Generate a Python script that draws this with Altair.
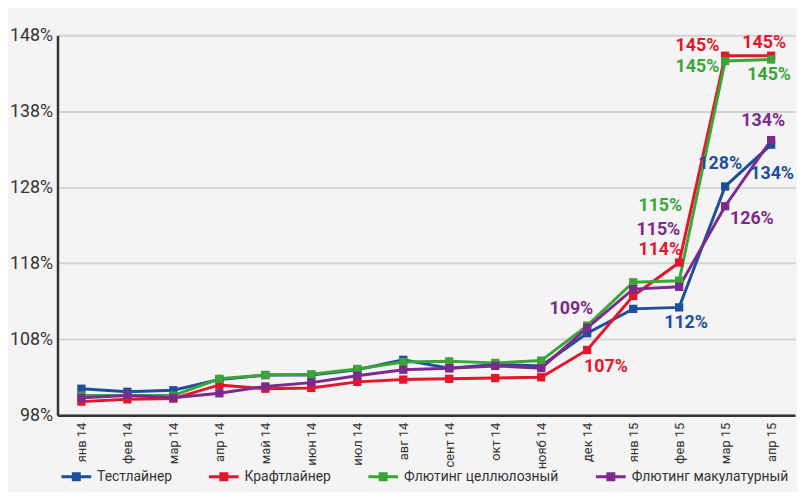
import pandas as pd
import altair as alt

# ── data ─────────────────────────────────────────────────────────────────────

MONTHS = ["янв 14", "фев 14", "мар 14", "апр 14", "май 14", "июн 14",
          "июл 14", "авг 14", "сент 14", "окт 14", "нояб 14", "дек 14",
          "янв 15", "фев 15", "мар 15", "апр 15"]

SERIES = ["Тестлайнер", "Крафтлайнер", "Флютинг целлюлозный", "Флютинг макулатурный"]

TESTLINER = [101.5, 101.1, 101.3, 102.7, 103.3, 103.3, 104.0, 105.3,
             104.2, 104.7, 104.5, 108.8, 112.0, 112.2, 128.1, 133.6]
KRAFTLINER = [99.8, 100.1, 100.2, 102.0, 101.5, 101.6, 102.4, 102.7,
              102.8, 102.9, 103.0, 106.6, 113.7, 118.1, 145.3, 145.3]
FLUTING_CELL = [100.6, 100.6, 100.6, 102.8, 103.3, 103.4, 104.1, 105.0,
                105.1, 104.9, 105.2, 109.8, 115.5, 115.7, 144.6, 144.8]
FLUTING_WASTE = [100.3, 100.6, 100.3, 100.9, 101.8, 102.3, 103.2, 104.0,
                 104.2, 104.5, 104.2, 109.5, 114.6, 114.9, 125.5, 134.2]

Y_TICKS = [98, 108, 118, 128, 138, 148]

# annotations: (series, month, text)
LABELS = [
    ("Крафтлайнер", "мар 15", "145%"),
    ("Крафтлайнер", "апр 15", "145%"),
    ("Флютинг целлюлозный", "мар 15", "145%"),
    ("Флютинг целлюлозный", "апр 15", "145%"),
    ("Флютинг макулатурный", "апр 15", "134%"),
    ("Тестлайнер", "мар 15", "128%"),
    ("Тестлайнер", "апр 15", "134%"),
    ("Флютинг макулатурный", "мар 15", "126%"),
    ("Флютинг целлюлозный", "фев 15", "115%"),
    ("Флютинг макулатурный", "фев 15", "115%"),
    ("Крафтлайнер", "фев 15", "114%"),
    ("Тестлайнер", "фев 15", "112%"),
    ("Флютинг макулатурный", "дек 14", "109%"),
    ("Крафтлайнер", "дек 14", "107%"),
]

# ── style ────────────────────────────────────────────────────────────────────

COLORS = ["#1d4f9c", "#e5162c", "#3ba637", "#7e2a8c"]
BG = "#f4f4f4"
AXIS_COLOR = "#333333"
GRID_COLOR = "#d3d3d3"
FONT = "Roboto"

# (dx, dy) for each annotation, same order as LABELS
LABEL_OFFSETS = [(-28, -10), (-7, -13), (-28, 6), (-2, 16), (-8, -19),
                 (-5, -23), (1, 30), (27, 13), (-19, -75), (-21, -57),
                 (-19, -13), (7, 16), (-16, -19), (19, 17)]

# ── build table ──────────────────────────────────────────────────────────────

values = dict(zip(SERIES, [TESTLINER, KRAFTLINER, FLUTING_CELL, FLUTING_WASTE]))
series_color = dict(zip(SERIES, COLORS))
df = pd.DataFrame([
    {"month": m, "series": s, "value": v, "order": i, "line_color": series_color[s]}
    for i, s in enumerate(SERIES)
    for m, v in zip(MONTHS, values[s])
])

x_enc = alt.X(
    "month:N", sort=MONTHS, title=None,
    scale=alt.Scale(type="point", padding=0.52),
    axis=alt.Axis(labelAngle=-90, labelFontSize=13, labelColor=AXIS_COLOR,
                  labelPadding=7, ticks=False, grid=False, domainColor=AXIS_COLOR,
                  domainWidth=2.5, labelFont=FONT),
)
y_enc = alt.Y(
    "value:Q", title=None,
    scale=alt.Scale(domain=[98, 148], nice=False, zero=False),
    axis=alt.Axis(values=Y_TICKS, labelExpr="datum.value + '%'", labelFontSize=18,
                  labelColor=AXIS_COLOR, labelPadding=5, ticks=False,
                  gridColor=GRID_COLOR, gridWidth=2, domainColor=AXIS_COLOR,
                  domainWidth=2.5, labelFont=FONT),
)

# lines take their colour straight from the table, so only the squares make a legend
lines = alt.Chart(df).mark_line(strokeWidth=3).encode(
    x=x_enc, y=y_enc,
    color=alt.Color("line_color:N", scale=None),
    detail="series:N",
    order=alt.Order("order:Q"),
)

points = alt.Chart(df).mark_square(size=70, filled=True, opacity=1).encode(
    x=alt.X("month:N", sort=MONTHS),
    y="value:Q",
    color=alt.Color(
        "series:N", scale=alt.Scale(domain=SERIES, range=COLORS),
        legend=alt.Legend(
            title=None, orient="none", direction="horizontal",
            legendX=4, legendY=431,
            symbolType="M-1,-0.1H1V0.1H-1Z M-0.3,-0.3H0.3V0.3H-0.3Z",
            symbolSize=900, symbolStrokeWidth=0, symbolOpacity=1,
            labelFontSize=14, labelColor=AXIS_COLOR, labelFont=FONT,
            labelOffset=6, columnPadding=37,
        ),
    ),
)

label_layers = []
for (series, month, text), (dx, dy) in zip(LABELS, LABEL_OFFSETS):
    row = pd.DataFrame([{
        "month": month,
        "value": values[series][MONTHS.index(month)],
        "text": text,
    }])
    label_layers.append(
        alt.Chart(row).mark_text(
            dx=dx, dy=dy, fontSize=18, fontWeight="bold", font=FONT,
            color=series_color[series], align="center", baseline="middle",
        ).encode(x=alt.X("month:N", sort=MONTHS), y="value:Q", text="text:N")
    )

chart = (
    alt.layer(lines, points, *label_layers)
    .properties(
        width=745, height=384,
        padding={"left": 50, "top": 25, "right": 2, "bottom": 75},
        autosize=alt.AutoSizeParams(type="none"),
        background=BG,
    )
    .configure_view(strokeWidth=0)
)

chart.save("out.html", embed_options={"renderer": "svg", "actions": False})
